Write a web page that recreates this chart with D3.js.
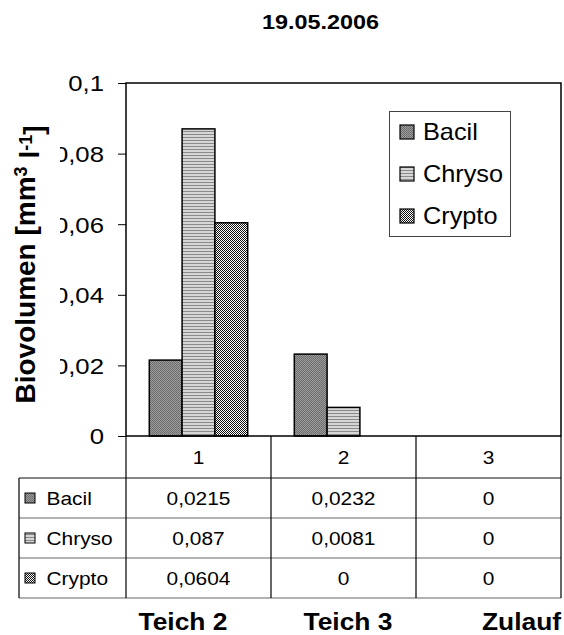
<!DOCTYPE html>
<html>
<head>
<meta charset="utf-8">
<script src="https://cdn.jsdelivr.net/npm/d3@7"></script>
<style>
  body { margin: 0; background: #fff; }
  text { font-family: "Liberation Sans", Arial, sans-serif; fill: #000; }
</style>
</head>
<body>
<div id="chart"></div>
<script>
// data
var categories = ["1", "2", "3"];
var siteNames = ["Teich 2", "Teich 3", "Zulauf"];
var seriesNames = ["Bacil", "Chryso", "Crypto"];
var bacilVals = [0.0215, 0.0232, 0];
var chrysoVals = [0.087, 0.0081, 0];
var cryptoVals = [0.0604, 0, 0];
var yTicks = [0, 0.02, 0.04, 0.06, 0.08, 0.1];

var seriesValues = [bacilVals, chrysoVals, cryptoVals];

var width = 564,
    height = 635,
    plotLeft = 126, plotRight = 561, plotTop = 83, plotBottom = 436;

var fmt = function(v) { return String(+v.toFixed(4)).replace(".", ","); };

var svg = d3.select("#chart").append("svg")
    .attr("width", width)
    .attr("height", height);

// patterns
var defs = svg.append("defs");
var pBacil = defs.append("pattern").attr("id", "p0")
    .attr("patternUnits", "userSpaceOnUse").attr("width", 2).attr("height", 2);
pBacil.append("rect").attr("width", 2).attr("height", 2).attr("fill", "#9a9a9a");
pBacil.append("rect").attr("width", 1).attr("height", 1).attr("fill", "#6a6a6a");
pBacil.append("rect").attr("x", 1).attr("y", 1).attr("width", 1).attr("height", 1).attr("fill", "#727272");
var pChryso = defs.append("pattern").attr("id", "p1")
    .attr("patternUnits", "userSpaceOnUse").attr("width", 4).attr("height", 3);
pChryso.append("rect").attr("width", 4).attr("height", 3).attr("fill", "#d6d6d6");
pChryso.append("rect").attr("y", 2).attr("width", 4).attr("height", 1).attr("fill", "#8a8a8a");
var pCrypto = defs.append("pattern").attr("id", "p2")
    .attr("patternUnits", "userSpaceOnUse").attr("width", 2).attr("height", 2);
pCrypto.append("rect").attr("width", 2).attr("height", 2).attr("fill", "#fff");
pCrypto.append("rect").attr("width", 1).attr("height", 1).attr("fill", "#111");
pCrypto.append("rect").attr("x", 1).attr("y", 1).attr("width", 1).attr("height", 1).attr("fill", "#111");

var color = d3.scaleOrdinal().domain(seriesNames).range(["url(#p0)", "url(#p1)", "url(#p2)"]);

// scales
var x0 = d3.scaleBand().domain(categories).range([plotLeft, plotRight]);
var x1 = d3.scaleBand().domain(seriesNames).range([0, x0.bandwidth()])
    .paddingInner(0).paddingOuter(0.71);
var y = d3.scaleLinear().domain([0, 0.1]).range([plotBottom, plotTop]);

// y axis
var yAxis = svg.append("g")
    .attr("transform", "translate(" + plotLeft + ",0)")
    .call(d3.axisLeft(y).tickValues(yTicks).tickSize(8)
      .tickFormat(function(d) { return fmt(d); }));
yAxis.select(".domain").remove();
yAxis.selectAll("line").attr("stroke", "#000");
yAxis.selectAll("text")
    .attr("x", 0).attr("dy", null).attr("dominant-baseline", "central")
    .attr("transform", "translate(-22,0) scale(1.17,1)")
    .style("font-size", "22px").style("font-family", "Liberation Sans");

// white box of the axis title hides the left part of labels
svg.append("rect").attr("x", 0).attr("y", 100).attr("width", 60).attr("height", 320).attr("fill", "#fff");

svg.append("text")
    .attr("transform", "translate(35," + ((plotTop + plotBottom) / 2 + 5) + ") rotate(-90)")
    .attr("text-anchor", "middle")
    .style("font-size", "28px").style("font-weight", "bold")
    .call(function(t) {
      t.append("tspan").text("Biovolumen [mm");
      t.append("tspan").attr("dy", "-0.42em").style("font-size", "18px").text("3");
      t.append("tspan").attr("dy", "0.42em").text(" l");
      t.append("tspan").attr("dy", "-0.42em").style("font-size", "18px").text("-1");
      t.append("tspan").attr("dy", "0.42em").text("]");
    });

// bars
var groups = svg.append("g").selectAll("g")
    .data(categories)
    .enter().append("g")
    .attr("transform", function(d) { return "translate(" + x0(d) + ",0)"; });

groups.selectAll("rect")
    .data(function(d, i) {
      return seriesNames.map(function(s, j) { return { s: s, v: seriesValues[j][i] }; })
        .filter(function(e) { return e.v > 0; });
    })
    .enter().append("rect")
    .attr("x", function(d) { return x1(d.s); })
    .attr("y", function(d) { return y(d.v); })
    .attr("width", x1.bandwidth())
    .attr("height", function(d) { return y(0) - y(d.v); })
    .attr("fill", function(d) { return color(d.s); })
    .attr("stroke", "#000").attr("stroke-width", 1.5);

// plot frame
svg.append("rect").attr("x", plotLeft).attr("y", plotTop)
    .attr("width", plotRight - plotLeft).attr("height", plotBottom - plotTop)
    .attr("fill", "none").attr("stroke", "#000").attr("stroke-width", 1.5);

// legend
var lg = svg.append("g");
lg.append("rect").attr("x", 389.5).attr("y", 111.5).attr("width", 121).attr("height", 125)
    .attr("fill", "#fff").attr("stroke", "#444");
var ly = d3.scalePoint().domain(seriesNames).range([132, 216]);
var li = lg.selectAll(".li").data(seriesNames).enter().append("g")
    .attr("transform", function(d) { return "translate(0," + ly(d) + ")"; });
li.append("rect").attr("x", 400).attr("y", -7).attr("width", 14).attr("height", 14)
    .attr("fill", function(d) { return color(d); }).attr("stroke", "#000").attr("stroke-width", 1.2);
li.append("text").attr("transform", "translate(423,0) scale(1.1,1)")
    .attr("dominant-baseline", "central")
    .style("font-size", "23px").text(function(d) { return d; });

// data table
var tableLeft = 19, headBottom = 478, tableBottom = 598;
var rowY = d3.scaleBand().domain(seriesNames).range([headBottom, tableBottom]);
var tb = svg.append("g");

// horizontal lines
rowY.domain().forEach(function(s, i) {
  tb.append("line").attr("x1", tableLeft).attr("x2", plotRight)
    .attr("y1", rowY(s) + rowY.bandwidth()).attr("y2", rowY(s) + rowY.bandwidth())
    .attr("stroke", "#666").attr("stroke-width", 1.2);
});
tb.append("line").attr("x1", tableLeft).attr("x2", plotRight)
    .attr("y1", headBottom).attr("y2", headBottom).attr("stroke", "#111").attr("stroke-width", 1.2);
// vertical lines
categories.concat(["end"]).forEach(function(c, i) {
  var xx = i < categories.length ? x0(c) : plotRight;
  tb.append("line").attr("x1", xx).attr("x2", xx).attr("y1", plotBottom).attr("y2", tableBottom)
    .attr("stroke", "#000").attr("stroke-width", 1.2);
});
tb.append("line").attr("x1", tableLeft).attr("x2", tableLeft).attr("y1", headBottom).attr("y2", tableBottom)
    .attr("stroke", "#000").attr("stroke-width", 1.2);

// header labels
tb.selectAll(".hd").data(categories).enter().append("text")
    .attr("transform", function(d) {
      return "translate(" + (x0(d) + x0.bandwidth() / 2) + "," + ((plotBottom + headBottom) / 2) + ") scale(1.1,1)";
    })
    .attr("text-anchor", "middle").attr("dominant-baseline", "central")
    .style("font-size", "19px").text(function(d) { return d; });

// row keys and labels
var rows = tb.selectAll(".row").data(seriesNames).enter().append("g")
    .attr("transform", function(d) { return "translate(0," + (rowY(d) + rowY.bandwidth() / 2) + ")"; });
rows.append("rect").attr("x", 25).attr("y", -5).attr("width", 10).attr("height", 10)
    .attr("fill", function(d) { return color(d); }).attr("stroke", "#000").attr("stroke-width", 1);
rows.append("text").attr("transform", "translate(46.5,0) scale(1.1,1)")
    .attr("dominant-baseline", "central")
    .style("font-size", "19px").text(function(d) { return d; });
rows.each(function(s, j) {
  d3.select(this).selectAll(".val").data(seriesValues[j]).enter().append("text")
    .attr("transform", function(v, i) {
      return "translate(" + (x0(categories[i]) + x0.bandwidth() / 2) + ",0) scale(1.1,1)";
    })
    .attr("text-anchor", "middle").attr("dominant-baseline", "central")
    .style("font-size", "19px").text(function(v) { return fmt(v); });
});

// site names below table
var siteX = d3.scaleOrdinal().domain(siteNames).range([138.5, 303.5, 482]);
svg.selectAll(".site").data(siteNames).enter().append("text")
    .attr("transform", function(d) { return "translate(" + siteX(d) + ",630) scale(1.1,1)"; })
    .style("font-size", "24px").style("font-weight", "bold")
    .text(function(d) { return d; });

// title
svg.append("text")
    .attr("transform", "translate(320.5,29) scale(1.17,1)")
    .attr("text-anchor", "middle")
    .style("font-size", "20px").style("font-weight", "bold")
    .text("19.05.2006");
</script>
</body>
</html>
